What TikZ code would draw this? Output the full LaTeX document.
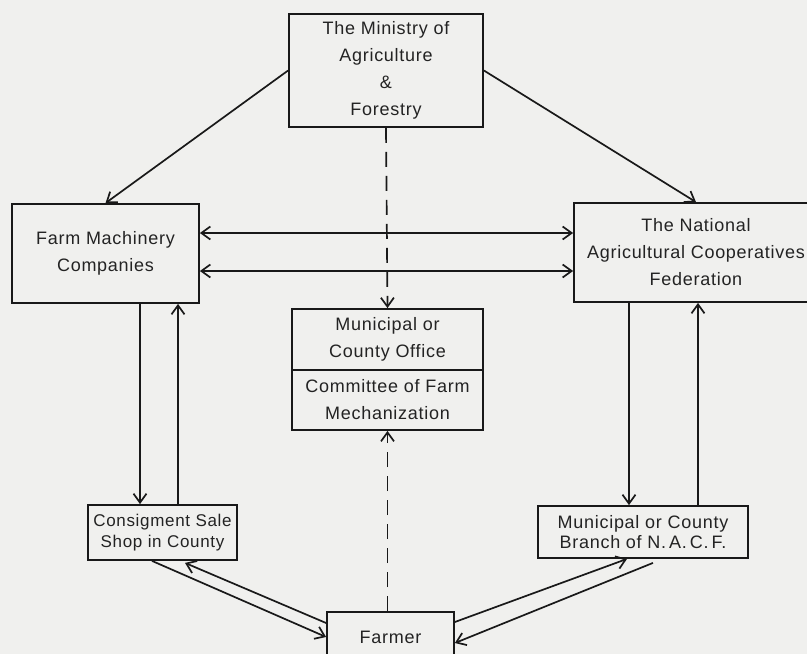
\documentclass[tikz,border=0pt]{standalone}
\usepackage{fontspec}
\setmainfont[LetterSpace=4]{Liberation Sans}
\usetikzlibrary{arrows.meta}
\definecolor{bgc}{RGB}{240,240,238}
\definecolor{linec}{RGB}{25,25,25}
\definecolor{textc}{RGB}{35,35,35}
\begin{document}
\begin{tikzpicture}[x=1pt,y=-1pt,
  box/.style={draw=linec,line width=1.8pt,rectangle,inner sep=0pt,align=center,
    font=\fontsize{18}{27}\selectfont,text=textc},
  smallbox/.style={box,font=\fontsize{17}{20.5}\selectfont},
  midbox/.style={box,font=\fontsize{18}{20.5}\selectfont},
  arr/.style={draw=linec,line width=1.7pt,-{Straight Barb[length=9pt,width=13pt]}},
  darr/.style={draw=linec,line width=1.7pt,{Straight Barb[length=9pt,width=13pt]}-{Straight Barb[length=9pt,width=13pt]}},
  dasharr/.style={arr,dash pattern=on 15pt off 9pt}]
\clip (0,0) rectangle (807,654);
\fill[bgc] (0,0) rectangle (807,654);

\node[box,minimum width=194pt,minimum height=113pt] (min) at (386,70.5)
  {The Ministry of\\Agriculture\\\&\\Forestry};
\node[box,minimum width=187pt,minimum height=99pt] (fm) at (105.5,253.5)
  {Farm Machinery\\Companies};
\node[box,minimum width=244pt,minimum height=99pt] (nacf) at (696,252.5)
  {The National\\Agricultural Cooperatives\\Federation};
\node[box,minimum width=191pt,minimum height=61pt] (muni) at (387.5,339.5)
  {Municipal or\\County Office};
\node[box,minimum width=191pt,minimum height=60pt] (comm) at (387.5,400)
  {Committee of Farm\\Mechanization};
\node[smallbox,minimum width=149pt,minimum height=55pt] (cons) at (162.5,532.5)
  {Consigment Sale\\Shop in County};
\node[midbox,minimum width=210pt,minimum height=52pt] (branch) at (643,532)
  {Municipal or County\\Branch of N.\,A.\,C.\,F.};
\node[box,minimum width=127pt,minimum height=50pt] (farmer) at (390.5,637)
  {Farmer};

\draw[arr] (min.west) -- (fm.north);
\draw[arr] (min.east) -- (nacf.north);
\draw[darr] ([yshift=20.5pt]fm.east) -- ([yshift=20.5pt]fm.east -| nacf.west);
\draw[darr] ([yshift=-17.5pt]fm.east) -- ([yshift=-17.5pt]fm.east -| nacf.west);
\draw[dasharr] (min.south) -- (muni.north);
\draw[dasharr] (comm.south |- farmer.north) -- (comm.south);
\draw[arr] ([xshift=34.5pt]fm.south) -- ([xshift=34.5pt]fm.south |- cons.north);
\draw[arr] ([xshift=72.5pt]fm.south |- cons.north) -- ([xshift=72.5pt]fm.south);
\draw[arr] ([xshift=-67pt]nacf.south) -- ([xshift=-67pt]nacf.south |- branch.north);
\draw[arr] ([xshift=2pt]nacf.south |- branch.north) -- ([xshift=2pt]nacf.south);
\draw[arr] ([xshift=-10.5pt]cons.south) -- (farmer.west);
\draw[arr] ([yshift=14pt]farmer.west) -- ([xshift=22.5pt,yshift=-2pt]cons.south);
\draw[arr] ([yshift=15pt]farmer.east) -- ([xshift=-16pt]branch.south);
\draw[arr] ([xshift=10pt,yshift=-4pt]branch.south) -- ([yshift=-6pt]farmer.east);
\end{tikzpicture}
\end{document}
